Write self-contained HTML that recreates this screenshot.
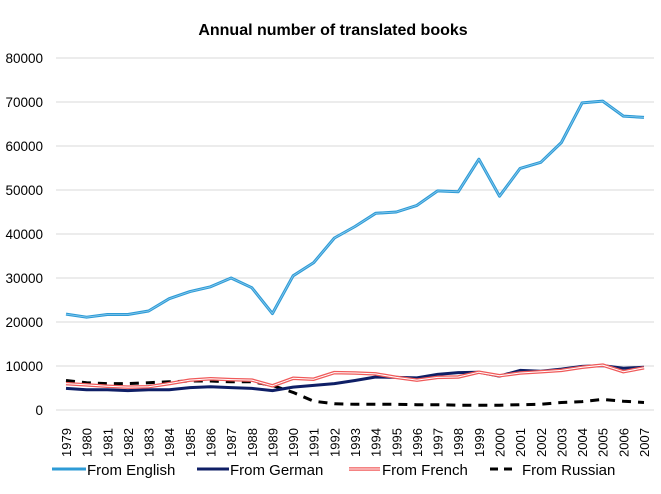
<!DOCTYPE html>
<html><head><meta charset="utf-8"><style>
body{margin:0;background:#fff;font-family:"Liberation Sans",sans-serif}
svg text{font-family:"Liberation Sans",sans-serif}
</style></head><body>
<svg id="c" width="661" height="489">
<text x="333" y="35" text-anchor="middle" font-size="16" font-weight="bold">Annual number of translated books</text>
<g id="grid"></g><g id="series"></g><g id="xt"></g>
<g font-size="15">
<g><line x1="52" y1="469" x2="86" y2="469" stroke="#2E9BD6" stroke-width="3"/><text x="87" y="475">From English</text></g>
<g><line x1="197" y1="469" x2="229" y2="469" stroke="#0F1F66" stroke-width="3"/><text x="230" y="475">From German</text></g>
<g><line x1="349" y1="469" x2="380" y2="469" stroke="#F05A5A" stroke-width="3.5"/><line x1="349" y1="469" x2="380" y2="469" stroke="#fff" stroke-width="1"/><text x="382" y="475">From French</text></g>
<g><line x1="490" y1="469" x2="517" y2="469" stroke="#000" stroke-width="3" stroke-dasharray="8,6"/><text x="522" y="475">From Russian</text></g>
</g>
</svg>
<script>
const years=[1979,1980,1981,1982,1983,1984,1985,1986,1987,1988,1989,1990,1991,1992,1993,1994,1995,1996,1997,1998,1999,2000,2001,2002,2003,2004,2005,2006,2007];
const english=[21800,21100,21700,21700,22500,25300,26900,28000,30000,27800,21900,30500,33500,39100,41700,44700,45000,46500,49800,49600,57000,48600,54900,56300,60800,69800,70200,66800,66500];
const german=[4900,4600,4600,4400,4600,4600,5100,5300,5100,4900,4400,5200,5600,6000,6700,7500,7400,7300,8100,8500,8600,7700,9000,8800,9300,9900,10100,9500,9700];
const french=[6000,5700,5400,5200,5300,6000,6800,7100,6900,6800,5500,7200,7000,8500,8400,8200,7400,6800,7400,7500,8600,7800,8400,8700,9000,9700,10200,8700,9600];
const russian=[6700,6200,6000,6000,6200,6400,6600,6600,6400,6400,5600,4000,2000,1400,1300,1300,1300,1200,1200,1100,1100,1100,1200,1300,1700,1900,2400,2000,1700];
const yTicks=[0,10000,20000,30000,40000,50000,60000,70000,80000];
const NS="http://www.w3.org/2000/svg";
const X0=66,X1=644,Y0=410,Y1=58,XL=56,XR=654;
const xs=i=>X0+(X1-X0)*i/(years.length-1);
const ys=v=>Y0-(Y0-Y1)*v/80000;
function mk(t,a,p){const e=document.createElementNS(NS,t);for(const k in a)e.setAttribute(k,a[k]);p.appendChild(e);return e;}
const grid=document.getElementById('grid');
yTicks.forEach(v=>{
 const l=mk('line',{x1:XL,x2:XR,y1:ys(v),y2:ys(v),stroke:'#d9d9d9','stroke-width':1},grid);
 
 
 const t=mk('text',{x:43,y:ys(v)+5,'text-anchor':'end','font-size':13.5},grid);
 t.textContent=v;
 
 
});
const xt=document.getElementById('xt');
years.forEach((y,i)=>{
 const t=mk('text',{transform:`translate(${xs(i)+5},${457}) rotate(-90)`,'font-size':13},xt);
 t.textContent=y;
 
 
});
const sg=document.getElementById('series');
function path(arr){return arr.map((v,i)=>(i?'L':'M')+xs(i).toFixed(1)+','+ys(v).toFixed(1)).join('');}
function line(arr,name,attrs){const p=mk('path',Object.assign({d:path(arr),fill:'none','stroke-linejoin':'round'},attrs),sg);
 
 }
line(russian,'series-russian',{stroke:'#000','stroke-width':3,'stroke-dasharray':'9,7'});
line(german,'series-german',{stroke:'#0F1F66','stroke-width':3});
line(french,'series-french',{stroke:'#F05A5A','stroke-width':3.5});
line(french,'series-french-inner',{stroke:'#fff','stroke-width':1});
line(english,'series-english',{stroke:'#2E9BD6','stroke-width':3});
line(english,'series-english-inner',{stroke:'#8CCBEE','stroke-width':0.8});
</script>
</body></html>
